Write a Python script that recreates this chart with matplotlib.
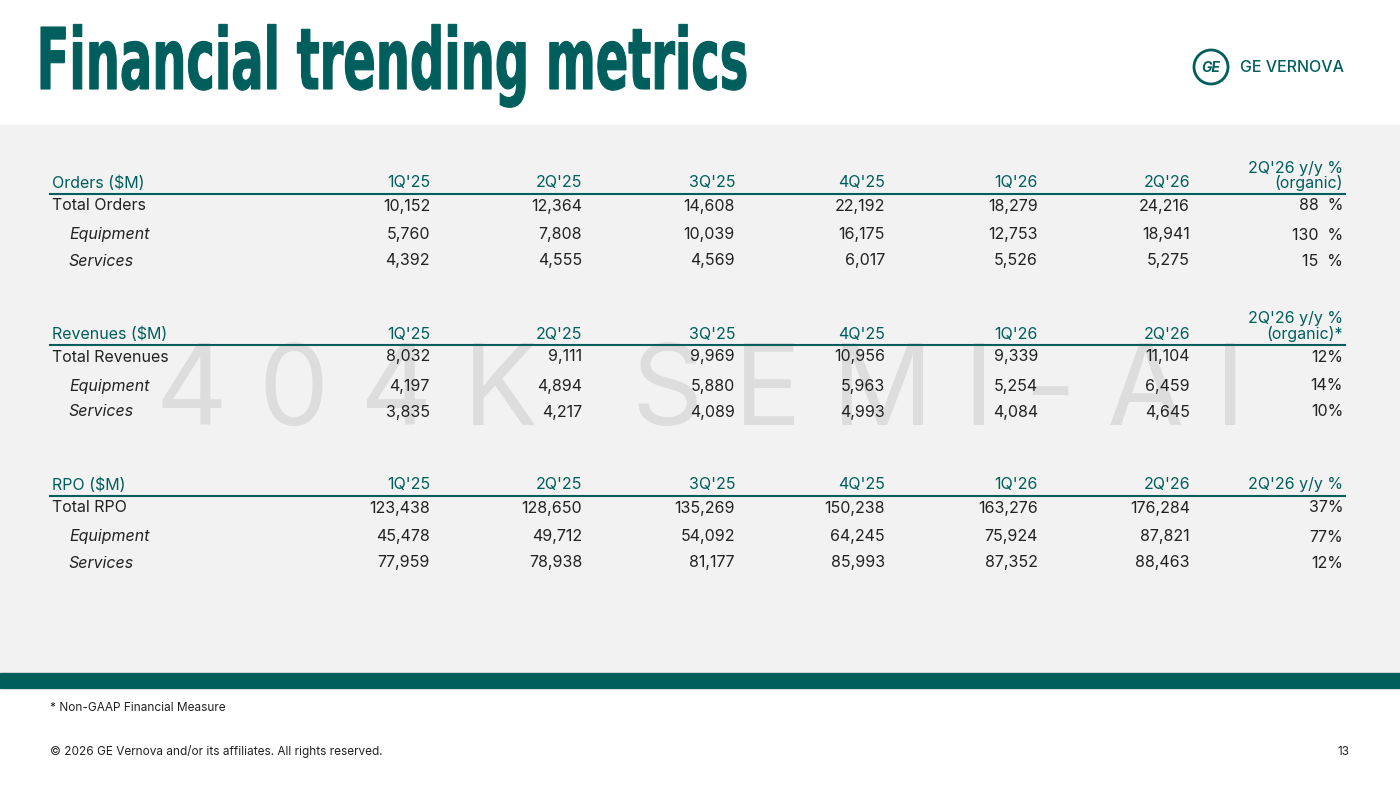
import matplotlib
matplotlib.use("Agg")
import matplotlib.pyplot as plt
from matplotlib.patches import Rectangle, Circle, PathPatch
from matplotlib.textpath import TextPath
from matplotlib.font_manager import FontProperties
from matplotlib.transforms import Affine2D

quarters = ["1Q'25", "2Q'25", "3Q'25", "4Q'25", "1Q'26", "2Q'26"]
sections = ["Orders ($M)", "Revenues ($M)", "RPO ($M)"]
last_headers = ["2Q'26 y/y %\n(organic)", "2Q'26 y/y %\n(organic)*", "2Q'26 y/y %"]
row_labels = [["Total Orders", "Equipment", "Services"],
              ["Total Revenues", "Equipment", "Services"],
              ["Total RPO", "Equipment", "Services"]]
orders = [["10,152", "12,364", "14,608", "22,192", "18,279", "24,216"],
          ["5,760", "7,808", "10,039", "16,175", "12,753", "18,941"],
          ["4,392", "4,555", "4,569", "6,017", "5,526", "5,275"]]
orders_yy = ["88  %", "130  %", "15  %"]
revenues = [["8,032", "9,111", "9,969", "10,956", "9,339", "11,104"],
            ["4,197", "4,894", "5,880", "5,963", "5,254", "6,459"],
            ["3,835", "4,217", "4,089", "4,993", "4,084", "4,645"]]
revenues_yy = ["12%", "14%", "10%"]
rpo = [["123,438", "128,650", "135,269", "150,238", "163,276", "176,284"],
       ["45,478", "49,712", "54,092", "64,245", "75,924", "87,821"],
       ["77,959", "78,938", "81,177", "85,993", "87,352", "88,463"]]
rpo_yy = ["37%", "77%", "12%"]

TEAL = "#005E5D"
W, H = 1400, 787
fig = plt.figure(figsize=(14, 7.87), dpi=100)
ax = fig.add_axes([0, 0, 1, 1])
ax.set_xlim(0, W); ax.set_ylim(H, 0); ax.axis("off")
plt.rcParams['font.family'] = ['Inter', 'DejaVu Sans']

ax.add_patch(Rectangle((0, 125), W, 548, color="#F2F2F2", zorder=0))
ax.add_patch(Rectangle((0, 673), W, 15, color=TEAL, zorder=0))

# condensed title drawn as text path
tp = TextPath((0, 0), "Financial trending metrics", size=100,
              prop=FontProperties(family="DejaVu Sans", weight="black"))
fp = TextPath((0, 0), "F", size=100, prop=FontProperties(family="DejaVu Sans", weight="black"))
ext = tp.get_extents()
cap = fp.get_extents().y1
sx = 705 / ext.width
sy = 62 / cap
tr = Affine2D().translate(-ext.x0, 0).scale(sx, -sy).translate(41, 89)
ax.add_patch(PathPatch(tr.transform_path(tp), fc=TEAL, ec=TEAL, lw=0.8, zorder=3))

ax.add_patch(Circle((1211, 67), 17, fill=False, ec=TEAL, lw=2))
ax.text(1211, 68, "GE", fontsize=10, style="italic", color=TEAL, ha="center", va="center", fontweight="bold")
ax.text(1240, 67, "GE VERNOVA", fontsize=11.5, color=TEAL, ha="left", va="center", fontweight="medium")

ax.text(700, 395, "4 0 4 K   S E M I - A I", fontsize=80, color="#DDDDDD", ha="center", va="center",
        fontweight="normal", zorder=1)

col_x = [430, 582, 735, 885, 1038, 1190]
last_x = 1343
tops = [183, 334, 485]
datasets = [(orders, orders_yy), (revenues, revenues_yy), (rpo, rpo_yy)]
fs = 11.5
for s in range(3):
    y0 = tops[s]
    ax.text(52, y0, sections[s], fontsize=fs, color=TEAL, va="center", ha="left", zorder=3)
    for q, x in zip(quarters, col_x):
        ax.text(x, y0, q, fontsize=fs, color=TEAL, va="center", ha="right", zorder=3)
    if "\n" in last_headers[s]:
        l1, l2 = last_headers[s].split("\n")
        ax.text(last_x, y0 - 15, l1, fontsize=fs, color=TEAL, va="center", ha="right", zorder=3)
        ax.text(last_x, y0, l2, fontsize=fs, color=TEAL, va="center", ha="right", zorder=3)
    else:
        ax.text(last_x, y0, last_headers[s], fontsize=fs, color=TEAL, va="center", ha="right", zorder=3)
    ax.plot([50, 1345], [y0 + 11, y0 + 11], color=TEAL, lw=1.5, zorder=3)
    vals, yy = datasets[s]
    row_y = [y0 + 23, y0 + 52, y0 + 78]
    for r in range(3):
        italic = r > 0
        ax.text(52 if r == 0 else 69, row_y[r], row_labels[s][r], fontsize=fs, color="#222222",
                style="italic" if italic else "normal", va="center", ha="left", zorder=3)
        for v, x in zip(vals[r], col_x):
            ax.text(x, row_y[r], v, fontsize=fs, color="#222222", va="center", ha="right", zorder=3)
        ax.text(last_x, row_y[r], yy[r], fontsize=fs, color="#222222", va="center", ha="right", zorder=3)

ax.text(50, 708, "* Non-GAAP Financial Measure", fontsize=8.5, color="#222222", va="center")
ax.text(50, 752, "© 2026 GE Vernova and/or its affiliates. All rights reserved.", fontsize=8.5, color="#222222", va="center")
ax.text(1350, 752, "13", fontsize=8.5, color="#222222", va="center", ha="right")

fig.savefig("out.png", dpi=100)
